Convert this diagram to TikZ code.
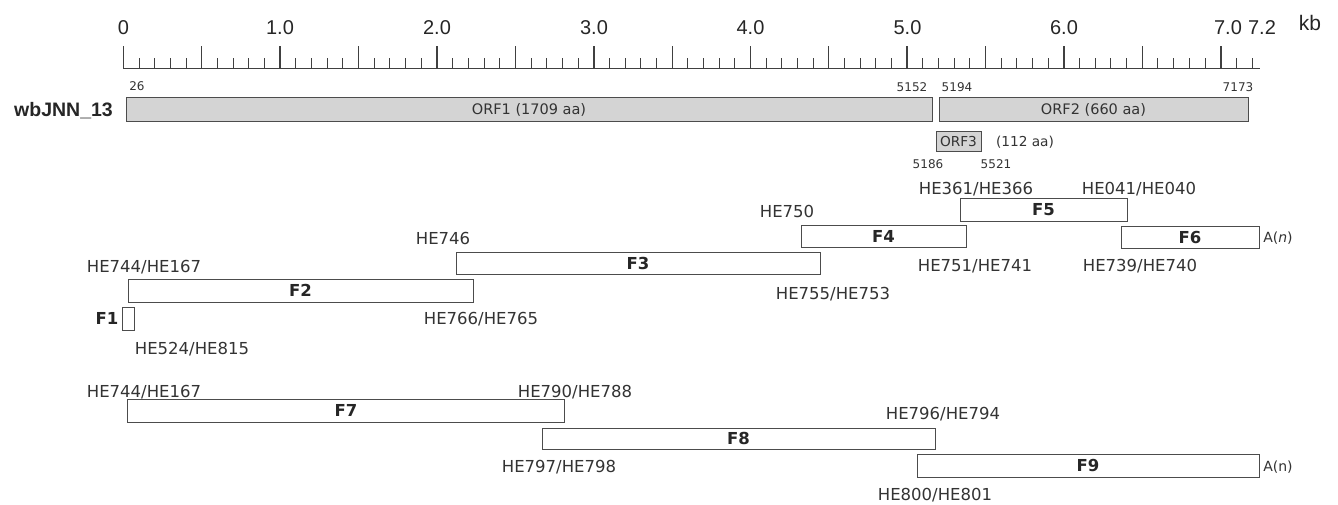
\documentclass[tikz,border=0pt]{standalone}
\usepackage{fontspec}
\setmainfont{DejaVu Sans}
\newfontfamily\libfont{Liberation Sans}
\newfontfamily\djfont{DejaVu Sans}
\begin{document}
\begin{tikzpicture}[x=1pt,y=-1pt,
  bar/.style={draw=black!70, line width=0.9pt, fill=white, inner sep=0pt, minimum height=22pt,
    font=\djfont\bfseries\fontsize{16.5}{16.5}\selectfont, text=black!85, text height=12pt, text depth=0pt},
  orf/.style={draw=black!70, line width=0.9pt, fill=black!17, inner sep=0pt, minimum height=24pt,
    font=\djfont\fontsize{14.5}{14.5}\selectfont, text=black!80, text height=10.6pt, text depth=0pt},
  prim/.style={inner sep=0pt, font=\djfont\fontsize{16.5}{16.5}\selectfont, text=black!80, text height=12pt, text depth=0pt},
  posnum/.style={inner sep=0pt, font=\djfont\fontsize{12}{12}\selectfont, text=black!80, text height=8.7pt, text depth=0pt},
  small/.style={inner sep=0pt, font=\djfont\fontsize{13.7}{13.7}\selectfont, text=black!80, text height=10pt, text depth=0pt},
  rul/.style={inner sep=0pt, font=\libfont\fontsize{20}{20}\selectfont, text=black!85, text height=14.3pt, text depth=0pt},
  flab/.style={inner sep=0pt, font=\djfont\bfseries\fontsize{16.5}{16.5}\selectfont, text=black!85, text height=12pt, text depth=0pt},
  tick/.style={line width=1pt, draw=black!75},
  majortick/.style={line width=1.8pt, draw=black!75}
]
\useasboundingbox (0,0) rectangle (1338,504);
% ruler
\draw[line width=1.6pt, black!75] (123,68.5) -- (1260,68.5);
\foreach \i in {0,...,72} \draw[tick] (123.5+\i*15.674,68.5) -- ++(0,-11);
\foreach \i in {0,...,14} \draw[tick] (123.5+\i*78.37,68.5) -- ++(0,-23);
\foreach \i in {0,...,7} \draw[majortick] (123.5+\i*156.74,68.5) -- ++(0,-23);
\node[rul] (r0) at (123.5,27) {0};
\node[rul] (r1) at (280,27) {1.0};
\node[rul] (r2) at (437,27) {2.0};
\node[rul] (r3) at (594,27) {3.0};
\node[rul] (r4) at (750.5,27) {4.0};
\node[rul] (r5) at (907.5,27) {5.0};
\node[rul] (r6) at (1064,27) {6.0};
\node[rul] (r7) at (1228,27) {7.0};
\node[rul] (r72) at (1262,27) {7.2};
\node[inner sep=0pt, font=\libfont\fontsize{21}{21}\selectfont, text=black!85, anchor=base] (kb) at (1310,30) {kb};
% genome
\node[inner sep=0pt, font=\libfont\bfseries\fontsize{19.5}{19.5}\selectfont, text=black!85, text height=14pt, text depth=0pt, anchor=east] (name) at (113,109) {wbJNN\_13};
\node[orf, minimum width=806pt] (orf1) at (529,109) {ORF1 (1709 aa)};
\node[orf, minimum width=309pt] (orf2) at (1093.5,109) {ORF2 (660 aa)};
\node[orf, minimum width=45pt, minimum height=20pt, font=\djfont\fontsize{13.7}{13.7}\selectfont, text height=10pt] (orf3) at (958.5,141) {ORF3};
\node[small] (orf3aa) at (1025,141) {(112 aa)};
\node[posnum] (p26) at (137,86) {26};
\node[posnum] (p5152) at (912,87) {5152};
\node[posnum] (p5194) at (957,87) {5194};
\node[posnum] (p7173) at (1238,87) {7173};
\node[posnum] (p5186) at (928,164) {5186};
\node[posnum] (p5521) at (996,164) {5521};
% fragments
\node[bar, minimum width=167pt, minimum height=23pt] (F5) at (1043.5,209.5) {F5};
\node[bar, minimum width=165pt] (F4) at (883.5,236) {F4};
\node[bar, minimum width=138pt] (F6) at (1190,237) {F6};
\node[bar, minimum width=364pt] (F3) at (638,263) {F3};
\node[bar, minimum width=345pt, minimum height=23pt] (F2) at (300.5,290.5) {F2};
\node[bar, minimum width=12pt, minimum height=23pt] (F1) at (128,318.5) {};
\node[flab] (F1l) at (107,318) {F1};
\node[bar, minimum width=437pt, minimum height=23pt] (F7) at (346,410.5) {F7};
\node[bar, minimum width=393pt, minimum height=21pt] (F8) at (738.5,438.5) {F8};
\node[bar, minimum width=342pt, minimum height=23pt] (F9) at (1088,465.5) {F9};
\node[small, font=\djfont\fontsize{14}{14}\selectfont] (an1) at (1278,237) {A(\textit{n})};
\node[small, font=\djfont\fontsize{14}{14}\selectfont] (an2) at (1278,466) {A(n)};
% primers
\node[prim] (h1) at (976,188) {HE361/HE366};
\node[prim] (h2) at (1139,188) {HE041/HE040};
\node[prim] (h3) at (787,211) {HE750};
\node[prim] (h4) at (443,238) {HE746};
\node[prim] (h5) at (975,265) {HE751/HE741};
\node[prim] (h6) at (1140,265) {HE739/HE740};
\node[prim] (h7) at (144,266) {HE744/HE167};
\node[prim] (h8) at (833,293) {HE755/HE753};
\node[prim] (h9) at (481,318) {HE766/HE765};
\node[prim] (h10) at (192,348) {HE524/HE815};
\node[prim] (h11) at (144,391) {HE744/HE167};
\node[prim] (h12) at (575,391) {HE790/HE788};
\node[prim] (h13) at (943,413) {HE796/HE794};
\node[prim] (h14) at (559,466) {HE797/HE798};
\node[prim] (h15) at (935,494) {HE800/HE801};
\end{tikzpicture}
\end{document}
